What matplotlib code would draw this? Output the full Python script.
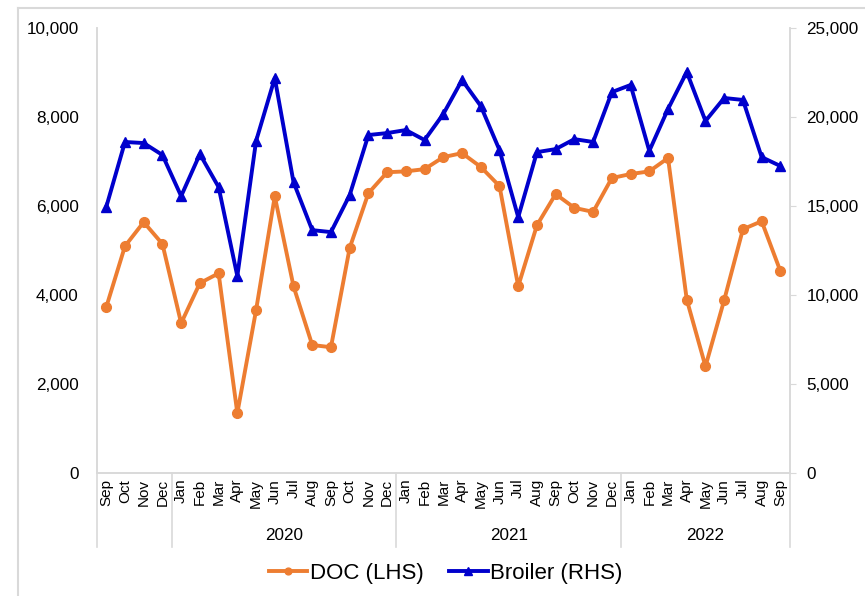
import matplotlib.pyplot as plt
from matplotlib.lines import Line2D
from matplotlib.ticker import FuncFormatter
import numpy as np

plt.rcParams['font.family'] = ['Liberation Sans', 'DejaVu Sans']

months = ['Sep', 'Oct', 'Nov', 'Dec',
          'Jan', 'Feb', 'Mar', 'Apr', 'May', 'Jun', 'Jul', 'Aug', 'Sep', 'Oct', 'Nov', 'Dec',
          'Jan', 'Feb', 'Mar', 'Apr', 'May', 'Jun', 'Jul', 'Aug', 'Sep', 'Oct', 'Nov', 'Dec',
          'Jan', 'Feb', 'Mar', 'Apr', 'May', 'Jun', 'Jul', 'Aug', 'Sep']
years = ['2020', '2021', '2022']
year_start = [4, 16, 28]
year_end = [15, 27, 36]

doc = [3730, 5100, 5640, 5150,
       3370, 4270, 4490, 1350, 3660, 6220, 4200, 2880, 2830, 5060, 6290, 6760,
       6780, 6830, 7100, 7190, 6880, 6450, 4200, 5570, 6270, 5960, 5870, 6630,
       6720, 6780, 7080, 3900, 2400, 3890, 5480, 5660, 4540]
broiler = [14950, 18600, 18540, 17870,
           15560, 17920, 16070, 11070, 18650, 22190, 16350, 13650, 13540, 15620, 18990, 19100,
           19270, 18710, 20170, 22080, 20620, 18150, 14380, 18030, 18200, 18760, 18600, 21400,
           21800, 18100, 20450, 22530, 19780, 21070, 20960, 17750, 17250]

x = np.arange(len(months))
grey = '#d9d9d9'
fmt = FuncFormatter(lambda v, p: f'{int(v):,}')

fig = plt.figure(figsize=(8.65, 5.96), dpi=100)
ax = fig.add_axes([0.112, 0.206, 0.801, 0.747])
ax2 = ax.twinx()

l1, = ax.plot(x, doc, color='#ED7D31', lw=2.8, marker='o', ms=7, label='DOC (LHS)')
l2, = ax2.plot(x, broiler, color='#0000CC', lw=2.8, marker='^', ms=7.5, label='Broiler (RHS)')

ax.set_xlim(-0.5, len(months) - 0.5)
ax.set_ylim(0, 10000)
ax2.set_ylim(0, 25000)
ax.set_yticks(np.arange(0, 10001, 2000))
ax2.set_yticks(np.arange(0, 25001, 5000))
ax.yaxis.set_major_formatter(fmt)
ax2.yaxis.set_major_formatter(fmt)

for a in (ax, ax2):
    a.spines['top'].set_visible(False)
    for s in ('left', 'right', 'bottom'):
        a.spines[s].set_color(grey)
        a.spines[s].set_linewidth(1.2)
ax.tick_params(axis='y', length=0, labelsize=12.3, pad=13)
ax2.tick_params(axis='y', length=4, color=grey, labelsize=12.3, pad=8)

ax.set_xticks(x)
ax.set_xticklabels(months, rotation=90, fontsize=11, va='top')
ax.tick_params(axis='x', length=0, pad=4)

# year groups under the month labels
tr = ax.get_xaxis_transform()
for xs in [-0.5] + [s - 0.5 for s in year_start] + [len(months) - 0.5]:
    ax.add_line(Line2D([xs, xs], [0, -0.165], transform=tr, color=grey, lw=1.2, clip_on=False))
for yr, s, e in zip(years, year_start, year_end):
    ax.text((s + e) / 2, -0.14, yr, transform=tr, ha='center', va='center', fontsize=12.3)

leg = fig.legend(handles=[l1, l2], loc='center', bbox_to_anchor=(0.515, 0.038), ncol=2,
                 frameon=False, fontsize=16, handlelength=1.75, columnspacing=1.15,
                 handletextpad=0.1, markerscale=0.7)

# outer frame lines
fig.add_artist(Line2D([0.021, 1], [0.987, 0.987], color=grey, lw=1.5))
fig.add_artist(Line2D([0.021, 0.021], [0, 0.987], color=grey, lw=1.5))

fig.savefig('out.png', dpi=100)
